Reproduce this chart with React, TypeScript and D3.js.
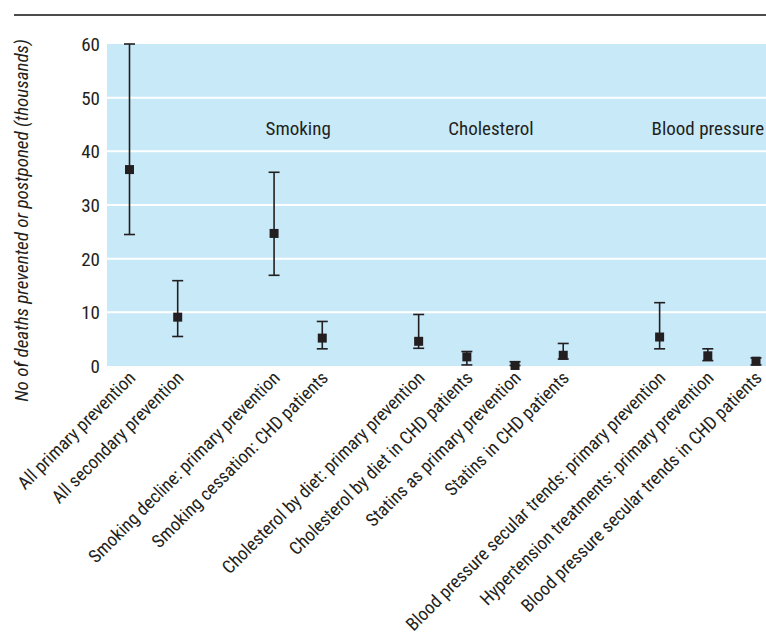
import React from "react";
import * as d3 from "d3";

const categories = [
  "All primary prevention",
  "All secondary prevention",
  "Smoking decline: primary prevention",
  "Smoking cessation: CHD patients",
  "Cholesterol by diet: primary prevention",
  "Cholesterol by diet in CHD patients",
  "Statins as primary prevention",
  "Statins in CHD patients",
  "Blood pressure secular trends: primary prevention",
  "Hypertension treatments: primary prevention",
  "Blood pressure secular trends in CHD patients",
];
const slots = [0, 1, 3, 4, 6, 7, 8, 9, 11, 12, 13];
const estimates = [36.6, 9.1, 24.7, 5.2, 4.6, 1.7, 0.1, 2.0, 5.4, 1.9, 0.9];
const lowers = [24.5, 5.5, 16.9, 3.2, 3.3, 0.2, 0.1, 1.3, 3.2, 1.0, 0.2];
const uppers = [60, 15.9, 36.1, 8.3, 9.6, 2.7, 0.8, 4.2, 11.8, 3.2, 1.5];
const groupLabels = ["Smoking", "Cholesterol", "Blood pressure"];
const groupCenters = [3.5, 7.5, 12];
const yTicks = [0, 10, 20, 30, 40, 50, 60];
const yTitle = "No of deaths prevented or postponed (thousands)";

const W = 766;
const H = 639;
const FONT = "'Liberation Sans Narrow', 'Arial Narrow', 'Roboto Condensed', sans-serif";

export default function App() {
  const plotLeft = 107;
  const plotRight = 766;
  const plotTop = 44;
  const plotBottom = 366;
  const x = d3.scaleLinear().domain([0, 13]).range([129.5, 756]);
  const y = d3.scaleLinear().domain([0, 60]).range([plotBottom, plotTop]);
  const cap = 5.5;
  const sq = 9;
  const ink = "#231f20";

  return (
    <svg
      width={W}
      height={H}
      style={{ position: "absolute", left: 0, top: 0, background: "#fff" }}
      fontFamily={FONT}
    >
      <line x1={14} x2={766} y1={15} y2={15} stroke="#111" strokeWidth={1.5} />
      <rect
        x={plotLeft}
        y={plotTop}
        width={plotRight - plotLeft}
        height={plotBottom - plotTop}
        fill="#c8e9f8"
      />
      {yTicks.map((t) => (
        <g key={t}>
          {t > 0 && t < 60 && (
            <line
              x1={plotLeft}
              x2={plotRight}
              y1={y(t)}
              y2={y(t)}
              stroke="#fff"
              strokeWidth={2}
            />
          )}
          <text
            x={100}
            y={y(t)}
            dy="0.36em"
            textAnchor="end"
            fontSize={19}
            fill="#231f20"
          >
            {t}
          </text>
        </g>
      ))}
      <text
        transform={`translate(28, ${(38 + 403) / 2}) rotate(-90)`}
        textAnchor="middle"
        fontSize={19}
        fontStyle="italic"
        fill="#231f20"
      >
        {yTitle}
      </text>
      {groupLabels.map((g, i) => (
        <text
          key={g}
          x={x(groupCenters[i])}
          y={y(43)}
          textAnchor="middle"
          fontSize={19}
          fill="#231f20"
        >
          {g}
        </text>
      ))}
      {categories.map((c, i) => {
        const cx = x(slots[i]);
        return (
          <g key={c}>
            <line
              x1={cx}
              x2={cx}
              y1={y(lowers[i])}
              y2={y(uppers[i])}
              stroke={ink}
              strokeWidth={1.6}
            />
            <line
              x1={cx - cap}
              x2={cx + cap}
              y1={y(uppers[i])}
              y2={y(uppers[i])}
              stroke={ink}
              strokeWidth={1.6}
            />
            <line
              x1={cx - cap}
              x2={cx + cap}
              y1={y(lowers[i])}
              y2={y(lowers[i])}
              stroke={ink}
              strokeWidth={1.6}
            />
            <rect
              x={cx - sq / 2}
              y={y(estimates[i]) - sq / 2}
              width={sq}
              height={sq}
              fill={ink}
            />
            <text
              transform={`translate(${cx + 7}, ${plotBottom + 13}) rotate(-45)`}
              textAnchor="end"
              fontSize={18.3}
              fill="#231f20"
            >
              {c}
            </text>
          </g>
        );
      })}
    </svg>
  );
}
